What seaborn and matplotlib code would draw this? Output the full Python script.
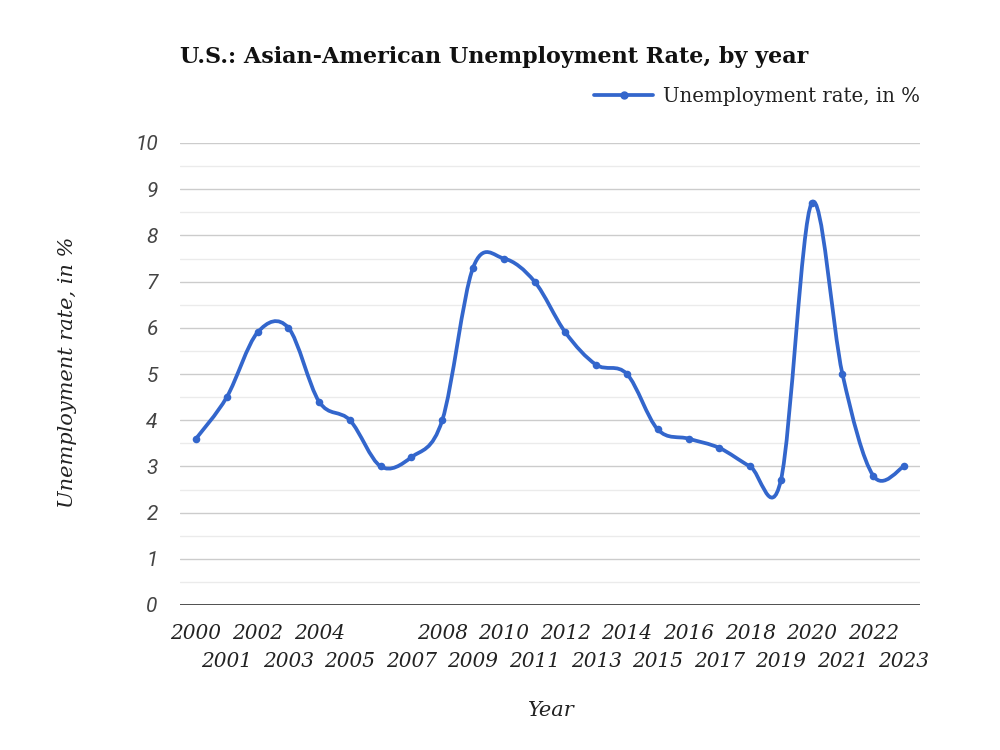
import numpy as np
import matplotlib
matplotlib.use("Agg")
import matplotlib.pyplot as plt
from matplotlib.path import Path
from matplotlib.patches import PathPatch
from matplotlib.lines import Line2D
import pandas as pd
import seaborn as sns

# data
years = list(range(2000, 2024))
rates = [3.6, 4.5, 5.9, 6.0, 4.4, 4.0, 3.0, 3.2, 4.0, 7.3, 7.5, 7.0,
         5.9, 5.2, 5.0, 3.8, 3.6, 3.4, 3.0, 2.7, 8.7, 5.0, 2.8, 3.0]
hidden_labels = [2006]   # label dropped in the original (overlap)
y_ticks = list(range(0, 11))

title = "U.S.: Asian-American Unemployment Rate, by year"
series_name = "Unemployment rate, in %"
x_title = "Year"
y_title = "Unemployment rate, in %"

LINE_BLUE = "#3366cc"


def smooth_path(x, y):
    # catmull-rom style bezier through the data points
    x = np.asarray(x, float)
    y = np.asarray(y, float)
    n = len(x)
    verts = [(x[0], y[0])]
    codes = [Path.MOVETO]
    for i in range(n - 1):
        i0 = max(i - 1, 0)
        i3 = min(i + 2, n - 1)
        c1 = (x[i] + (x[i + 1] - x[i0]) / 6, y[i] + (y[i + 1] - y[i0]) / 6)
        c2 = (x[i + 1] - (x[i3] - x[i]) / 6, y[i + 1] - (y[i3] - y[i]) / 6)
        verts += [c1, c2, (x[i + 1], y[i + 1])]
        codes += [Path.CURVE4] * 3
    return Path(verts, codes)


sns.set_style("white")
plt.rcParams['font.family'] = ['DejaVu Serif']

df = pd.DataFrame({"Year": years, "Rate": rates})

fig = plt.figure(figsize=(10, 7.5), dpi=100)
ax = fig.add_axes([0.18, 1 - 605 / 750, 0.74, (605 - 143) / 750])

ax.add_patch(PathPatch(smooth_path(df["Year"], df["Rate"]), fill=False,
                       edgecolor=LINE_BLUE, lw=2.7, capstyle='round',
                       joinstyle='round', zorder=3))
sns.scatterplot(data=df, x="Year", y="Rate", color=LINE_BLUE, s=30,
                linewidth=0, zorder=4, ax=ax, legend=False)

ax.set_xlim(1999.48, 2023.52)
ax.set_ylim(0, 10)

# gridlines
ax.set_yticks(y_ticks)
ax.set_yticks(np.arange(0.5, 10, 1), minor=True)
ax.grid(which='major', axis='y', color='#cccccc', lw=1)
ax.grid(which='minor', axis='y', color='#ebebeb', lw=1)
ax.grid(axis='x', visible=False)
ax.axhline(0, color='#333333', lw=1.2, zorder=2)
ax.set_axisbelow(True)
for s in ax.spines.values():
    s.set_visible(False)

ax.set_yticklabels([str(t) for t in y_ticks], fontfamily='Roboto',
                   style='italic', color='#444444', fontsize=15)
ax.tick_params(axis='y', which='both', length=0, pad=16)

# staggered year labels: even years on first row, odd on second
even = [y for y in years if y % 2 == 0]
odd = [y for y in years if y % 2 == 1]
ax.set_xticks(even)
ax.set_xticklabels(["" if y in hidden_labels else str(y) for y in even],
                   style='italic', color='#222222', fontsize=14.5)
ax.set_xticks(odd, minor=True)
ax.set_xticklabels([str(y) for y in odd], minor=True,
                   style='italic', color='#222222', fontsize=14.5)
ax.tick_params(axis='x', which='major', length=0, pad=14)
ax.tick_params(axis='x', which='minor', length=0, pad=34)
ax.set_xlabel("")
ax.set_ylabel("")

fig.text(0.18, 1 - 57 / 750, title, fontsize=16, fontweight='bold',
         color='#111111', va='center', ha='left')
fig.text(0.551, 1 - 710 / 750, x_title, fontsize=15, style='italic',
         color='#222222', ha='center', va='center')
fig.text(0.068, 1 - 372 / 750, y_title, fontsize=15, style='italic',
         color='#222222', ha='center', va='center', rotation=90)

handle = Line2D([], [], color=LINE_BLUE, lw=2.7, marker='o', ms=5)
fig.legend(handles=[handle], labels=[series_name], loc='center right',
           bbox_to_anchor=(0.92, 1 - 96 / 750), frameon=False, fontsize=14.2,
           handlelength=3.0, handletextpad=0.5, borderaxespad=0, borderpad=0,
           labelcolor='#222222')

fig.savefig("out.png", dpi=100)
